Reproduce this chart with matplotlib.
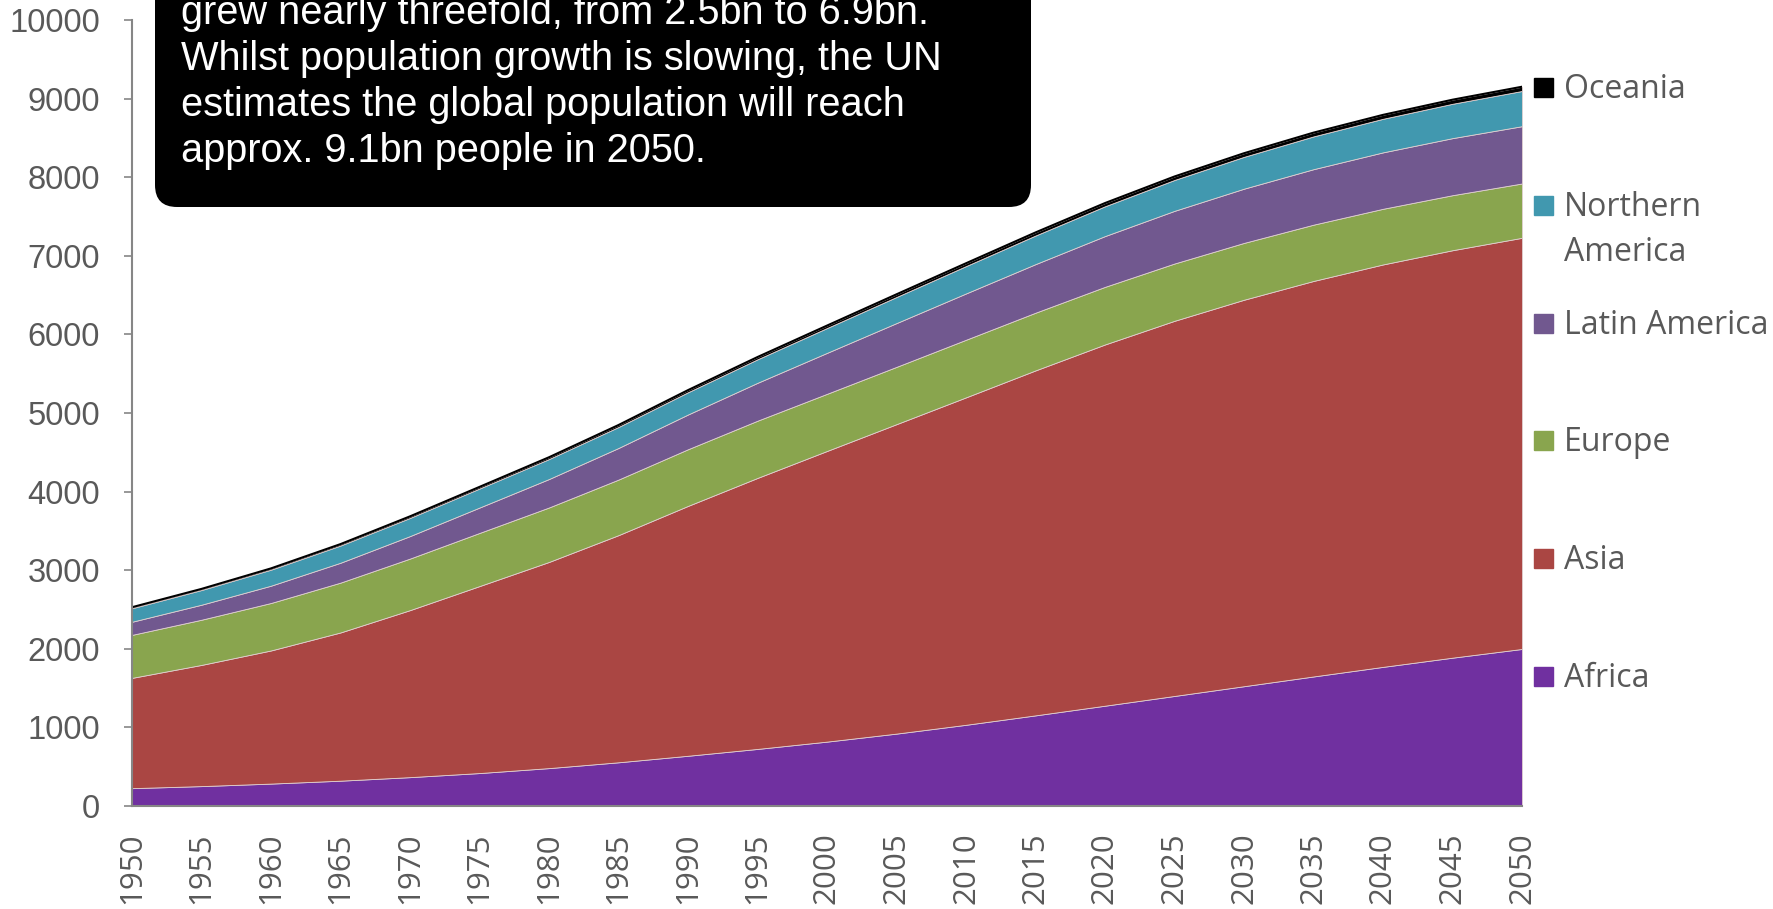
import numpy as np
import matplotlib.pyplot as plt
from matplotlib.patches import FancyBboxPatch, Rectangle
from matplotlib.transforms import IdentityTransform

years = np.arange(1950, 2051, 5)
africa = [227, 253, 285, 322, 367, 419, 482, 556, 639, 726, 819, 921, 1033, 1153, 1276, 1400, 1524, 1648, 1770, 1887, 1998]
asia = [1403, 1542, 1694, 1886, 2125, 2379, 2623, 2890, 3179, 3448, 3698, 3937, 4166, 4389, 4596, 4773, 4917, 5032, 5120, 5184, 5231]
europe = [547, 575, 604, 634, 656, 676, 693, 707, 721, 728, 727, 729, 733, 734, 733, 729, 723, 716, 708, 700, 691]
latin_america = [167, 191, 220, 253, 286, 323, 362, 402, 442, 482, 521, 557, 589, 618, 646, 670, 690, 706, 718, 726, 729]
northern_america = [172, 187, 204, 219, 231, 242, 254, 267, 283, 299, 316, 332, 348, 364, 379, 393, 405, 417, 427, 437, 448]
oceania = [13, 14, 16, 18, 20, 21, 23, 25, 27, 29, 31, 34, 36, 39, 41, 44, 46, 48, 50, 52, 54]

series = [africa, asia, europe, latin_america, northern_america, oceania]
labels = ["Africa", "Asia", "Europe", "Latin America", "Northern\nAmerica", "Oceania"]
colors = ["#7030A0", "#AA4643", "#89A54E", "#71588F", "#4198AF", "#000000"]

note = ["grew nearly threefold, from 2.5bn to 6.9bn.",
        "Whilst population growth is slowing, the UN",
        "estimates the global population will reach",
        "approx. 9.1bn people in 2050."]

grey = "#595959"
narrow = ["Liberation Sans", "DejaVu Sans"]
wide = ["Open Sans", "DejaVu Sans"]

fig = plt.figure(figsize=(17.73, 9.09), dpi=100)
ax = fig.add_axes([132 / 1773, 1 - 806 / 909, (1522 - 132) / 1773, (806 - 20) / 909])

ax.stackplot(years, *series, colors=colors, edgecolor="#e0d0d0", linewidth=0.6)
ax.plot(years, np.sum(series, axis=0), color="black", lw=1.5)

ax.set_xlim(1950, 2050)
ax.set_ylim(0, 10000)
ax.set_yticks(np.arange(0, 10001, 1000))
ax.set_xticks(years)
ax.set_xticklabels([str(y) for y in years], rotation=90, family=wide, fontsize=22.5, color=grey)
for t in ax.get_yticklabels():
    t.set_family(narrow)
    t.set_fontsize(23.5)
    t.set_color(grey)
ax.tick_params(axis="y", length=6, width=1.2, color="#868686", pad=17)
ax.tick_params(axis="x", length=0, pad=19)
for s in ["top", "right"]:
    ax.spines[s].set_visible(False)
for s in ["left", "bottom"]:
    ax.spines[s].set_color("#868686")
    ax.spines[s].set_linewidth(1.5)

# legend, top to bottom
for i, k in enumerate(range(len(series) - 1, -1, -1)):
    yc = 1 - (88 + i * 117.8) / 909
    fig.patches.append(Rectangle((1534 / 1773, yc - 9 / 909), 19 / 1773, 19 / 909,
                                 transform=fig.transFigure, color=colors[k]))
    fig.text(1564 / 1773, yc + 15 / 909, labels[k], fontsize=23, family=wide, color=grey,
             va="top", ha="left", linespacing=1.5)

# note box
box = FancyBboxPatch((155, 702), 876, 300, boxstyle="round,pad=0,rounding_size=22",
                     transform=IdentityTransform(), facecolor="black", edgecolor="none")
fig.patches.append(box)
for i, line in enumerate(note):
    fig.text(181 / 1773, 1 - (24 + i * 46) / 909, line, color="white", fontsize=28.6,
             family=narrow, va="baseline", ha="left")

fig.savefig("out.png", dpi=100)
